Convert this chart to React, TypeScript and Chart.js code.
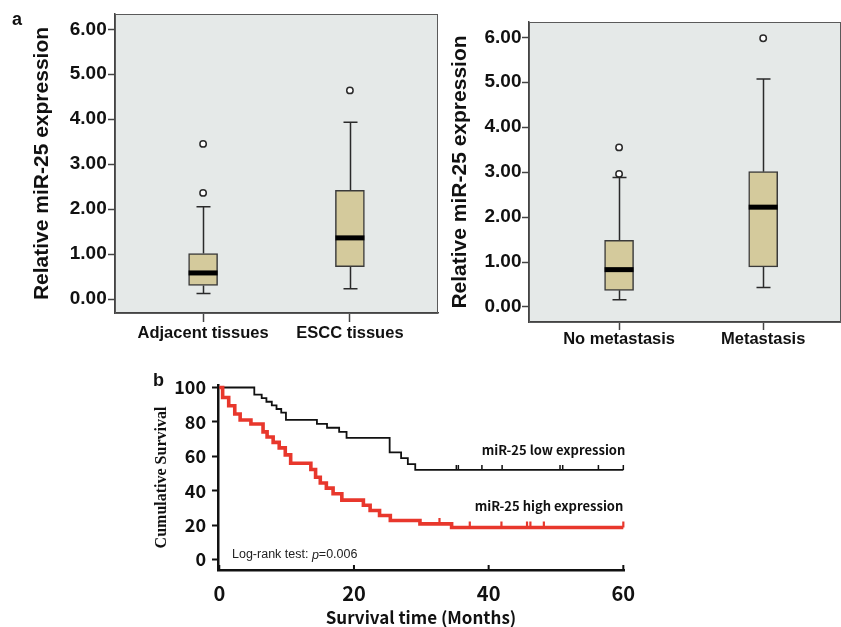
import React, { useEffect, useRef } from 'react';
import { Chart, registerables } from 'chart.js';
Chart.register(...registerables);

const SANS = '"Liberation Sans", Arial, sans-serif';
const CJK = '"Noto Sans CJK SC", "Noto Sans", sans-serif';
const SERIF = '"Liberation Serif", "Times New Roman", serif';

// ---------- Panel a (left): tissues ----------
const tissueCategories = ['Adjacent tissues', 'ESCC tissues'];
const tissueMin = [0.12, 0.23];
const tissueQ1 = [0.3, 0.72];
const tissueMedian = [0.58, 1.36];
const tissueQ3 = [1.01, 2.42];
const tissueMax = [2.05, 3.93];
const tissueOutliers = [[3.45, 2.36], [4.64]];

// ---------- Panel a (right): metastasis ----------
const metCategories = ['No metastasis', 'Metastasis'];
const metMin = [0.16, 0.43];
const metQ1 = [0.37, 0.89];
const metMedian = [0.83, 2.22];
const metQ3 = [1.48, 3.01];
const metMax = [2.88, 5.07];
const metOutliers = [[3.55, 2.96], [5.98]];

const expressionTicks = [0, 1, 2, 3, 4, 5, 6];

// ---------- Panel b: Kaplan-Meier ----------
const lowTimes = [0, 5.2, 6.3, 7.0, 7.8, 8.5, 9.2, 9.9, 14.5, 16.0, 17.8, 18.9, 25.3, 27.0, 28.0, 29.1, 60];
const lowSurvival = [100, 95.8, 93.8, 91.7, 89.6, 87.5, 85.4, 81.2, 78.9, 76.6, 74.2, 70.7, 62.3, 58.9, 55.5, 52.1, 52.1];
const lowCensored = [35.2, 35.5, 39.0, 42.0, 50.6, 51.0, 56.3, 60];

const highTimes = [0, 0.5, 1.4, 2.3, 3.1, 4.7, 6.5, 7.1, 8.0, 8.9, 9.8, 10.6, 13.6, 14.3, 15.0, 15.9, 16.9, 18.2, 21.4, 22.4, 23.8, 25.4, 29.8, 34.5, 60];
const highSurvival = [100, 94.2, 89.4, 84.6, 81.1, 78.8, 74.2, 71.2, 68.1, 64.9, 60.8, 56.0, 52.3, 47.8, 44.5, 41.5, 38.2, 34.5, 31.5, 28.5, 25.6, 22.7, 20.7, 18.6, 18.6];
const highCensored = [32.7, 37.2, 41.9, 45.7, 46.2, 48.2, 60];

const monthTicks = [0, 20, 40, 60];
const survivalTicks = [0, 20, 40, 60, 80, 100];

const BOX_FILL = '#d4ca9c';
const BOX_EDGE = '#3a3a3a';
const PLOT_BG = '#e5e9e8';
const RED = '#e8372c';

function boxConfig(o: any) {
  const { cats, mins, q1s, meds, q3s, maxs, outliers, xMin, xMax, yMin, yMax, yAxisW, xAxisH, pad, titlePadTop, yLabelPad, xLabelPad, xTickLen } = o;
  const idx = cats.map((_: any, i: number) => i);
  const plugin = {
    id: 'boxParts',
    beforeDraw(chart: any) {
      const { ctx, chartArea: a } = chart;
      ctx.save();
      ctx.fillStyle = PLOT_BG;
      ctx.fillRect(a.left, a.top, a.right - a.left, a.bottom - a.top);
      ctx.restore();
    },
    beforeDatasetsDraw(chart: any) {
      const { ctx, scales: { x, y } } = chart;
      ctx.save();
      ctx.strokeStyle = '#2a2a2a';
      ctx.lineWidth = 1.5;
      idx.forEach((i: number) => {
        const cx = Math.round(x.getPixelForValue(i)) + 0.5;
        const half = 7;
        const pMax = y.getPixelForValue(maxs[i]);
        const pMin = y.getPixelForValue(mins[i]);
        ctx.beginPath();
        ctx.moveTo(cx, y.getPixelForValue(q3s[i]));
        ctx.lineTo(cx, pMax);
        ctx.moveTo(cx, y.getPixelForValue(q1s[i]));
        ctx.lineTo(cx, pMin);
        ctx.moveTo(cx - half, pMax);
        ctx.lineTo(cx + half, pMax);
        ctx.moveTo(cx - half, pMin);
        ctx.lineTo(cx + half, pMin);
        ctx.stroke();
      });
      ctx.restore();
    },
    afterDatasetsDraw(chart: any) {
      const { ctx, scales: { y } } = chart;
      const meta = chart.getDatasetMeta(0);
      ctx.save();
      ctx.fillStyle = '#000';
      meta.data.forEach((bar: any, i: number) => {
        const py = y.getPixelForValue(meds[i]);
        ctx.fillRect(bar.x - bar.width / 2, py - 2.5, bar.width, 5);
      });
      ctx.restore();
    },
    afterDraw(chart: any) {
      const { ctx, chartArea: a } = chart;
      ctx.save();
      ctx.strokeStyle = '#5a5a5a';
      ctx.lineWidth = 1;
      ctx.strokeRect(a.left + 0.5, a.top + 0.5, a.right - a.left - 1, a.bottom - a.top);
      ctx.restore();
    },
  };
  return {
    type: 'bar',
    data: {
      datasets: [
        {
          type: 'bar',
          data: idx.map((i: number) => ({ x: i, y: [q1s[i], q3s[i]] })),
          backgroundColor: BOX_FILL,
          borderColor: BOX_EDGE,
          borderWidth: 1.5,
          borderSkipped: false,
          barThickness: 29,
          grouped: false,
        },
        {
          type: 'scatter',
          data: outliers.flatMap((arr: number[], i: number) => arr.map((v) => ({ x: i, y: v }))),
          pointRadius: 3.2,
          pointBackgroundColor: '#ffffff',
          pointBorderColor: '#2a2a2a',
          pointBorderWidth: 1.5,
        },
      ],
    },
    options: {
      animation: false,
      responsive: false,
      layout: { padding: pad, autoPadding: false },
      plugins: { legend: { display: false }, tooltip: { enabled: false } },
      scales: {
        x: {
          type: 'linear',
          min: xMin,
          max: xMax,
          offset: false,
          afterBuildTicks: (s: any) => { s.ticks = idx.map((v: number) => ({ value: v })); },
          afterFit: (s: any) => { s.height = xAxisH; },
          grid: { display: true, drawOnChartArea: false, drawTicks: true, tickLength: xTickLen, tickColor: '#444', tickWidth: 1.5, offset: false },
          border: { display: true, color: '#444', width: 1.5 },
          ticks: {
            autoSkip: false,
            maxRotation: 0,
            padding: xLabelPad,
            color: '#111',
            font: { family: SANS, size: 16.5, weight: 'bold' },
            callback: (v: any) => cats[v] ?? '',
          },
        },
        y: {
          type: 'linear',
          min: yMin,
          max: yMax,
          afterBuildTicks: (s: any) => { s.ticks = expressionTicks.map((v) => ({ value: v })); },
          afterFit: (s: any) => { s.width = yAxisW; },
          grid: { display: true, drawOnChartArea: false, drawTicks: true, tickLength: 7, tickColor: '#444', tickWidth: 1.5 },
          border: { display: true, color: '#444', width: 1.5 },
          ticks: {
            padding: yLabelPad,
            color: '#111',
            font: { family: SANS, size: 19, weight: 'bold' },
            callback: (v: any) => Number(v).toFixed(2),
          },
          title: {
            display: true,
            text: 'Relative miR-25 expression',
            color: '#111',
            font: { family: SANS, size: 21, weight: 'bold' },
            padding: { top: titlePadTop, bottom: 0 },
          },
        },
      },
    },
    plugins: [plugin],
  };
}

function stepValue(times: number[], surv: number[], t: number) {
  let v = surv[0];
  for (let i = 0; i < times.length; i++) if (times[i] <= t) v = surv[i];
  return v;
}

function kmConfig() {
  const plugin = {
    id: 'kmExtras',
    afterDatasetsDraw(chart: any) {
      const { ctx, scales: { x, y } } = chart;
      const censor = (times: number[], surv: number[], cens: number[], color: string, w: number, h: number) => {
        ctx.save();
        ctx.strokeStyle = color;
        ctx.lineWidth = w;
        ctx.beginPath();
        cens.forEach((t) => {
          const px = x.getPixelForValue(t);
          const py = y.getPixelForValue(stepValue(times, surv, t));
          ctx.moveTo(px, py);
          ctx.lineTo(px, py - h);
        });
        ctx.stroke();
        ctx.restore();
      };
      censor(highTimes, highSurvival, highCensored, RED, 2.2, 6);
      censor(lowTimes, lowSurvival, lowCensored, '#111', 1.5, 5);
    },
    afterDraw(chart: any) {
      const { ctx, scales: { x, y }, chartArea: a } = chart;
      ctx.save();
      // inward x tick marks
      ctx.strokeStyle = '#111';
      ctx.lineWidth = 2;
      ctx.beginPath();
      monthTicks.forEach((t) => {
        const px = x.getPixelForValue(t);
        ctx.moveTo(px, a.bottom);
        ctx.lineTo(px, a.bottom - 5);
      });
      ctx.stroke();
      // group labels
      ctx.fillStyle = '#111';
      ctx.textAlign = 'right';
      ctx.textBaseline = 'middle';
      ctx.font = `bold 13px ${CJK}`;
      ctx.fillText('miR-25 low expression', x.getPixelForValue(60) + 2, y.getPixelForValue(63.7));
      ctx.fillText('miR-25 high expression', x.getPixelForValue(60), y.getPixelForValue(31.1));
      // log-rank
      ctx.textAlign = 'left';
      ctx.fillStyle = '#222';
      let px = a.left + 14;
      const py = y.getPixelForValue(2.6);
      const parts: [string, string][] = [
        ['Log-rank test: ', `12.5px ${SANS}`],
        ['p', `italic 12.5px ${SANS}`],
        ['=0.006', `12.5px ${SANS}`],
      ];
      parts.forEach(([t, f]) => {
        ctx.font = f;
        ctx.fillText(t, px, py);
        px += ctx.measureText(t).width;
      });
      ctx.restore();
    },
  };
  return {
    type: 'line',
    data: {
      datasets: [
        {
          data: highTimes.map((t, i) => ({ x: t, y: highSurvival[i] })),
          borderColor: RED,
          borderWidth: 3.6,
          stepped: true,
          pointRadius: 0,
          fill: false,
          clip: 8,
        },
        {
          data: lowTimes.map((t, i) => ({ x: t, y: lowSurvival[i] })),
          borderColor: '#111',
          borderWidth: 1.8,
          stepped: true,
          pointRadius: 0,
          fill: false,
          clip: 8,
        },
      ],
    },
    options: {
      animation: false,
      responsive: false,
      layout: { padding: { top: 20, right: 26, left: 0, bottom: 0 }, autoPadding: false },
      plugins: { legend: { display: false }, tooltip: { enabled: false } },
      scales: {
        x: {
          type: 'linear',
          min: -0.19,
          max: 60.1,
          afterBuildTicks: (s: any) => { s.ticks = monthTicks.map((v) => ({ value: v })); },
          afterFit: (s: any) => { s.height = 60; },
          grid: { display: false, drawTicks: false },
          border: { display: true, color: '#111', width: 2.5 },
          ticks: {
            autoSkip: false,
            maxRotation: 0,
            padding: 11,
            color: '#111',
            font: { family: CJK, size: 20, weight: 'bold' },
          },
          title: {
            display: true,
            text: 'Survival time (Months)',
            color: '#111',
            font: { family: CJK, size: 17, weight: 'bold' },
            padding: { top: 0, bottom: 1.8 },
          },
        },
        y: {
          type: 'linear',
          min: -6.1,
          max: 101.45,
          afterBuildTicks: (s: any) => { s.ticks = survivalTicks.map((v) => ({ value: v })); },
          afterFit: (s: any) => { s.width = 78; },
          grid: { display: true, drawOnChartArea: false, drawTicks: true, tickLength: 6, tickColor: '#111', tickWidth: 2 },
          border: { display: true, color: '#111', width: 2.5 },
          ticks: {
            padding: 6,
            color: '#111',
            font: { family: CJK, size: 18, weight: 'bold' },
          },
          title: {
            display: true,
            text: 'Cumulative Survival',
            color: '#111',
            font: { family: SERIF, size: 16, weight: 'bold' },
            padding: { top: 12.5, bottom: 0 },
          },
        },
      },
    },
    plugins: [plugin],
  };
}

function ChartCanvas({ make, left, top, width, height }: any) {
  const ref = useRef<HTMLCanvasElement | null>(null);
  useEffect(() => {
    if (!ref.current) return;
    const chart = new Chart(ref.current, make());
    return () => chart.destroy();
  }, []);
  return (
    <canvas
      ref={ref}
      width={width}
      height={height}
      style={{ position: 'absolute', left, top, width, height }}
    />
  );
}

export default function App() {
  return (
    <div style={{ position: 'absolute', left: 0, top: 0, width: 841, height: 627, overflow: 'hidden', background: '#fff' }}>
      <ChartCanvas
        left={0}
        top={0}
        width={440}
        height={345}
        make={() =>
          boxConfig({
            cats: tissueCategories, mins: tissueMin, q1s: tissueQ1, meds: tissueMedian, q3s: tissueQ3, maxs: tissueMax,
            outliers: tissueOutliers, xMin: -0.6, xMax: 1.6, yMin: -0.311, yMax: 6.34, yAxisW: 115, xAxisH: 32,
            pad: { top: 14, right: 2, left: 0, bottom: 0 }, titlePadTop: 29.2, yLabelPad: 1.3, xLabelPad: 1.2, xTickLen: 9,
          })
        }
      />
      <ChartCanvas
        left={440}
        top={0}
        width={401}
        height={360}
        make={() =>
          boxConfig({
            cats: metCategories, mins: metMin, q1s: metQ1, meds: metMedian, q3s: metQ3, maxs: metMax,
            outliers: metOutliers, xMin: -0.625, xMax: 1.54, yMin: -0.335, yMax: 6.34, yAxisW: 89, xAxisH: 38,
            pad: { top: 22, right: 0, left: 0, bottom: 0 }, titlePadTop: 7.5, yLabelPad: 0.5, xLabelPad: 0, xTickLen: 8,
          })
        }
      />
      <ChartCanvas left={140} top={365} width={510} height={265} make={kmConfig} />
      <div style={{ position: 'absolute', left: 12, top: 10, font: `bold 18px ${SANS}`, lineHeight: '18px', color: '#111' }}>a</div>
      <div style={{ position: 'absolute', left: 153, top: 371, font: `bold 18px ${SANS}`, lineHeight: '18px', color: '#111' }}>b</div>
    </div>
  );
}
